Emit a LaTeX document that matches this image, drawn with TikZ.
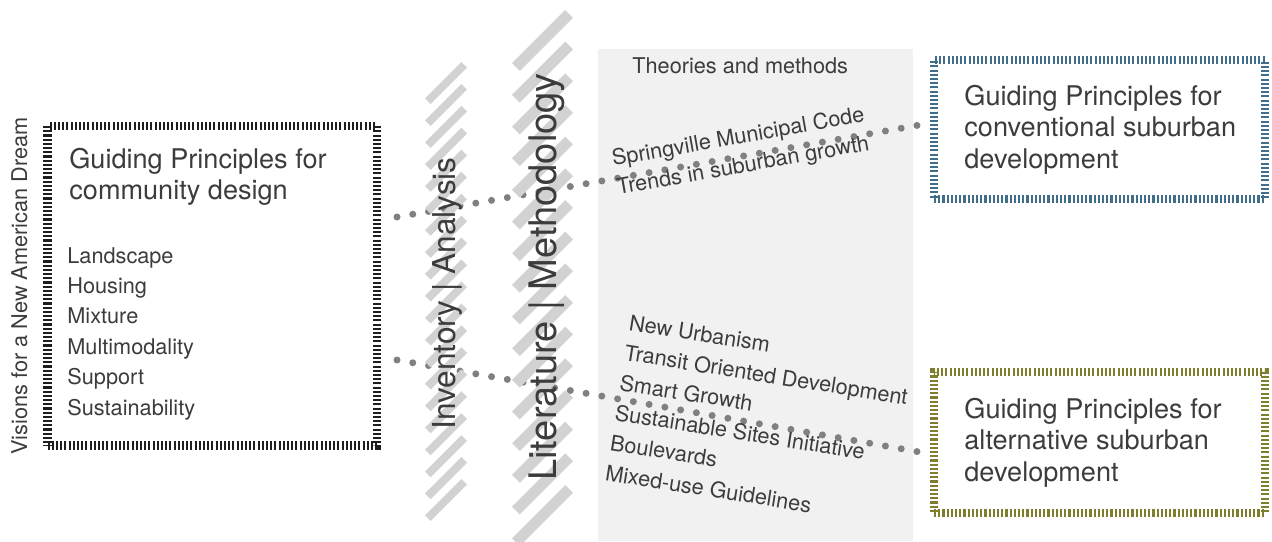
\documentclass[tikz,border=0pt]{standalone}
\usepackage{fontspec}
\setmainfont{TeX Gyre Heros}
\usetikzlibrary{calc}
\definecolor{txt}{HTML}{3C3C3C}
\definecolor{dotgray}{HTML}{808082}
\definecolor{stripe}{HTML}{D2D2D2}
\definecolor{panel}{HTML}{F1F1F1}
\definecolor{bluetick}{HTML}{3F6D8A}
\definecolor{olivetick}{HTML}{7E7E2C}
\definecolor{blacktick}{HTML}{1E1E1E}
\begin{document}
\begin{tikzpicture}[x=0.5pt,y=-0.5pt,
  tickbox/.style={draw=#1, line width=4.2pt, dash pattern=on 1.05pt off 1.05pt, inner sep=0pt},
  dotline/.style={draw=dotgray, line width=3.5pt, line cap=round, dash pattern=on 0pt off 7.999pt},
  stripeA/.style={draw=stripe, line width=4pt},
  stripeB/.style={draw=stripe, line width=5.5pt},
  small/.style={font=\fontsize{10.85pt}{13pt}\selectfont, text=txt, inner sep=0pt},
  title/.style={font=\fontsize{13.55pt}{15.5pt}\selectfont, text=txt, inner sep=0pt},
  bigA/.style={font=\fontsize{15.8pt}{18pt}\selectfont, text=txt, inner sep=0pt},
  bigB/.style={font=\fontsize{19pt}{22pt}\selectfont, text=txt, inner sep=0pt},
]
\useasboundingbox (0,0) rectangle (1272,541);
\clip (0,0) rectangle (1272,541);
% grey panel
\fill[panel] (598,49) rectangle (913,541);
% dotted connectors
\coordinate (d1s) at (397,217);
\coordinate (d1e) at (917,125.44);
\coordinate (d2s) at (397,360);
\coordinate (d2e) at (917,451.56);
\draw[dotline] (d1s) -- (d1e);
\draw[dotline] (d2s) -- (d2e);
% stripes
\foreach \i in {0,...,19}
  \draw[stripeA] (427.8,{101.2+21.95*\i}) -- (464.2,{64.8+21.95*\i});
\foreach \i in {0,...,15}
  \draw[stripeB] (515.9,{67.1+31.67*\i}) -- (569.1,{13.9+31.67*\i});
% vertical labels
\node[small, rotate=90, anchor=base west] (vis) at (27,455) {Visions for a New American Dream};
\node[bigA, rotate=90, anchor=base west] (inv) at (455,430) {Inventory | Analysis};
\node[bigB, rotate=90, anchor=base west] (lit) at (556.5,481) {Literature | Methodology};
% boxes
\node[tickbox=blacktick, minimum width=164.75pt, minimum height=159.75pt] (cdbox) at (212.25,285.75) {};
\node[tickbox=bluetick, minimum width=165.5pt, minimum height=69.5pt] (convbox) at (1099.5,129.5) {};
\node[tickbox=olivetick, minimum width=165.5pt, minimum height=70.5pt] (altbox) at (1099.5,442.5) {};
% left box text
\node[title, anchor=base west] (cd1) at (69,168) {Guiding Principles for};
\node[title, anchor=base west] (cd2) at (69,199) {community design};
\node[small, anchor=base west] (li1) at (67,263) {Landscape};
\node[small, anchor=base west] (li2) at (67,293.4) {Housing};
\node[small, anchor=base west] (li3) at (67,323.8) {Mixture};
\node[small, anchor=base west] (li4) at (67,354.2) {Multimodality};
\node[small, anchor=base west] (li5) at (67,384.6) {Support};
\node[small, anchor=base west] (li6) at (67,415) {Sustainability};
% panel texts
\node[small, anchor=base west] (thm) at (632,73) {Theories and methods};
\begin{scope}[shift={(613,166)}, rotate=10, transform shape]
  \node[small, anchor=base west] (spr) at (0,0) {Springville Municipal Code};
  \node[small, anchor=base west] (trd) at (0,29) {Trends in suburban growth};
\end{scope}
\begin{scope}[shift={(628,330)}, rotate=-9, transform shape]
  \node[small, anchor=base west] (nu) at (0,0) {New Urbanism};
  \node[small, anchor=base west] (tod) at (0,30.4) {Transit Oriented Development};
  \node[small, anchor=base west] (sg) at (0,60.8) {Smart Growth};
  \node[small, anchor=base west] (ssi) at (0,91.2) {Sustainable Sites Initiative};
  \node[small, anchor=base west] (blv) at (0,121.6) {Boulevards};
  \node[small, anchor=base west] (mxu) at (0,152) {Mixed-use Guidelines};
\end{scope}
% right box texts
\node[title, anchor=base west] (cv1) at (964,105) {Guiding Principles for};
\node[title, anchor=base west] (cv2) at (964,136.5) {conventional suburban};
\node[title, anchor=base west] (cv3) at (964,168) {development};
\node[title, anchor=base west] (al1) at (964,418) {Guiding Principles for};
\node[title, anchor=base west] (al2) at (964,449.5) {alternative suburban};
\node[title, anchor=base west] (al3) at (964,481) {development};
\end{tikzpicture}
\end{document}
